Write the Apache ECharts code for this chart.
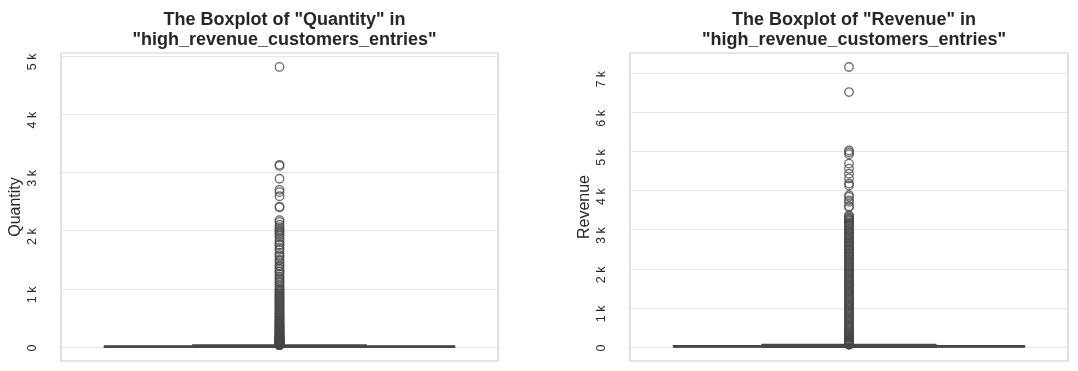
<!DOCTYPE html>
<html>
<head>
<meta charset="utf-8">
<script src="https://cdn.jsdelivr.net/npm/echarts@6/dist/echarts.min.js"></script>
<style>html,body{margin:0;padding:0;background:#fff;}#c{width:1078px;height:371px;}</style>
</head>
<body>
<div id="c"></div>
<script>
// ---- data ----
const titles = ['The Boxplot of "Quantity" in\n"high_revenue_customers_entries"',
                'The Boxplot of "Revenue" in\n"high_revenue_customers_entries"'];
const yNames = ['Quantity', 'Revenue'];
// [lower whisker, Q1, median, Q3, upper whisker]
const quantityStats = [1, 2, 6, 12, 29];
const revenueStats = [0.5, 5, 12, 25, 56];
const quantityOutliers = [4810, 3130, 3110, 2890, 2700, 2660, 2590, 2410, 2400,
  2180, 2150, 2100, 2060, 2030, 2000, 1980, 1950, 1920, 1880, 1840, 1800, 1760, 1750, 1700,
  1670, 1620, 1580, 1550, 1500, 1480, 1440, 1400, 1380, 1340, 1300, 1290, 1250, 1210, 1180,
  1150, 1120, 1100, 1060, 1030, 1000, 980, 962, 940, 918, 900, 884, 864, 850, 830, 812, 792,
  780, 760, 744, 722, 700, 690, 672, 650, 640, 620, 600, 584, 570, 552, 540, 520, 504, 490,
  480, 460, 450, 432, 420, 408, 396, 384, 372, 360, 350, 340, 330, 320, 310, 300, 290, 280,
  270, 264, 252, 240, 234, 224, 216, 210, 200, 192, 184, 180, 172, 168, 160, 156, 150, 144,
  140, 132, 128, 120, 112, 108, 100, 96, 90, 84, 80, 75, 72, 70, 66, 64, 60, 56, 54, 50, 48,
  45, 42, 40, 36, 35, 32, 31];
const revenueOutliers = [7160, 6520, 5030, 4980, 4930, 4690, 4560, 4430, 4310, 4180, 4130,
  3880, 3840, 3750, 3710, 3600, 3580, 3370, 3340, 3310, 3280, 3250, 3230, 3190, 3160, 3120,
  3100, 3060, 3020, 2990, 2960, 2920, 2890, 2860, 2830, 2800, 2770, 2730, 2700, 2670, 2640,
  2600, 2580, 2540, 2510, 2480, 2450, 2410, 2380, 2350, 2320, 2290, 2250, 2220, 2190, 2160,
  2130, 2090, 2060, 2030, 2000, 1970, 1940, 1910, 1880, 1850, 1810, 1780, 1750, 1720, 1690,
  1660, 1630, 1600, 1570, 1540, 1510, 1480, 1450, 1420, 1390, 1360, 1330, 1300, 1270, 1240,
  1210, 1180, 1150, 1120, 1090, 1060, 1030, 1000, 970, 940, 910, 880, 850, 820, 790, 760,
  730, 700, 670, 640, 610, 580, 550, 520, 490, 460, 430, 400, 375, 350, 325, 300, 280, 260,
  240, 220, 200, 185, 170, 155, 140, 128, 116, 105, 95, 86, 78, 70, 63, 58];

// ---- chart ----
const LINE = '#474747';
const BOXFILL = '#5875a4';
function boxItem(params, api) {
  const x = api.value(0);
  const lo = api.value(1), q1 = api.value(2), med = api.value(3), q3 = api.value(4), hi = api.value(5);
  const bw = 0.4, cw = 0.2;
  const a = api.coord([x - bw, q3]), b = api.coord([x + bw, q1]);
  const ls = {stroke: LINE, lineWidth: 2};
  const seg = (x1, y1, x2, y2) => {
    const p = api.coord([x1, y1]), q = api.coord([x2, y2]);
    return {type: 'line', shape: {x1: p[0], y1: p[1], x2: q[0], y2: q[1]}, style: ls};
  };
  return {type: 'group', children: [
    seg(x, q3, x, hi), seg(x, q1, x, lo),
    seg(x - cw, hi, x + cw, hi), seg(x - cw, lo, x + cw, lo),
    {type: 'rect', shape: {x: a[0], y: a[1], width: b[0] - a[0], height: b[1] - a[1]},
      style: {fill: BOXFILL, stroke: LINE, lineWidth: 2}},
    seg(x - bw, med, x + bw, med)
  ]};
}
const FONT = '"Liberation Sans", Arial, sans-serif';
function yAxis(idx, min, max, split) {
  return {
    type: 'value', gridIndex: idx, min: min, max: max, splitNumber: split,
    name: yNames[idx], nameLocation: 'middle', nameGap: 37,
    nameTextStyle: {fontFamily: FONT, fontSize: 16, color: '#262626'},
    axisLine: {show: false}, axisTick: {show: false},
    axisLabel: {rotate: 90, margin: 22, fontFamily: FONT, fontSize: 12.5, color: '#262626',
      showMinLabel: false, showMaxLabel: false,
      rich: {
        k: {fontFamily: FONT, fontSize: 12.5, color: '#262626', padding: [0, 12, 0, 0]},
        z: {fontFamily: FONT, fontSize: 12.5, color: '#262626', padding: [0, 2, 0, 0]}
      },
      formatter: v => (v % 1000 !== 0) ? '' : (v === 0 ? '{z|0}' : '{k|' + (v / 1000) + ' k}')},
    splitLine: {lineStyle: {color: '#e6e6e6', width: 1}}
  };
}
const TSTYLE = {fontFamily: FONT, fontSize: 18, fontWeight: 'bold', color: '#262626', lineHeight: 20};
const chart = echarts.init(document.getElementById('c'));
chart.setOption({
  animation: false,
  backgroundColor: '#fff',
  title: [
    {text: titles[0], left: 279.5, top: 5, textAlign: 'center', textStyle: TSTYLE},
    {text: titles[1], left: 849, top: 5, textAlign: 'center', textStyle: TSTYLE}
  ],
  grid: [
    {left: 61, top: 53, width: 437, height: 308, show: true, borderColor: '#cccccc', borderWidth: 1.25, backgroundColor: '#fff'},
    {left: 630, top: 53, width: 438, height: 308, show: true, borderColor: '#cccccc', borderWidth: 1.25, backgroundColor: '#fff'}
  ],
  xAxis: [
    {type: 'value', gridIndex: 0, min: -0.5, max: 0.5, show: false},
    {type: 'value', gridIndex: 1, min: -0.5, max: 0.5, show: false}
  ],
  yAxis: [
    yAxis(0, -240, 5050, 5),
    yAxis(1, -358, 7518, 8)
  ],
  series: [
    {type: 'custom', xAxisIndex: 0, yAxisIndex: 0, renderItem: boxItem,
      data: [[0].concat(quantityStats)], z: 2},
    {type: 'custom', xAxisIndex: 1, yAxisIndex: 1, renderItem: boxItem,
      data: [[0].concat(revenueStats)], z: 2},
    {type: 'scatter', xAxisIndex: 0, yAxisIndex: 0, symbol: 'circle', symbolSize: 8.5,
      itemStyle: {color: 'rgba(255,255,255,0)', borderColor: LINE, borderWidth: 1.3},
      data: quantityOutliers.map(v => [0, v]), z: 3},
    {type: 'scatter', xAxisIndex: 1, yAxisIndex: 1, symbol: 'circle', symbolSize: 8.5,
      itemStyle: {color: 'rgba(255,255,255,0)', borderColor: LINE, borderWidth: 1.3},
      data: revenueOutliers.map(v => [0, v]), z: 3}
  ]
});
</script>
</body>
</html>
